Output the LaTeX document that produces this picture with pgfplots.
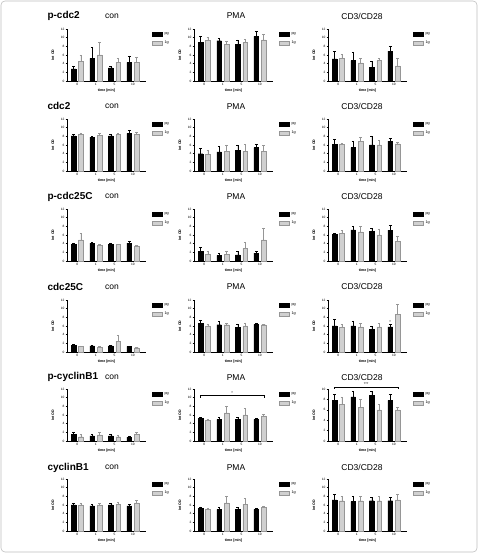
\documentclass[border=0pt]{standalone}
\usepackage{pgfplots}
\pgfplotsset{compat=1.18}
\usepackage{fontspec}
\setmainfont{Liberation Sans}
\definecolor{bargrey}{RGB}{208,208,208}
\definecolor{bargreyedge}{RGB}{150,150,150}

\pgfplotsset{
 panel/.style={
  scale only axis, width=79pt, height=52pt,
  xmin=-0.55, xmax=3.7, ymin=0, ymax=12,
  ybar, bar width=4.6pt,
  legend image code/.code={\draw[##1] (0pt,-1.8pt) rectangle (10.5pt,1.8pt);},
  axis x line*=bottom, axis y line*=left,
  axis line style={line width=0.5pt,-},
  ytick={0,2,...,12}, xtick={0,1,2,3}, xticklabels={0,1,5,10},
  tick align=outside, major tick length=1.5pt,
  tick style={line width=0.4pt,black},
  /pgf/number format/assume math mode=true,
  tick label style={font=\fontsize{3.2}{3.5}\selectfont, inner sep=0.8pt},
  xlabel={time [min]}, ylabel={Int OD},
  label style={font=\fontsize{3.6}{4}\selectfont\bfseries},
  x label style={at={(axis description cs:0.5,-0.19)}, anchor=center},
  y label style={at={(axis description cs:-0.18,0.5)}, anchor=center},
  legend style={at={(axis description cs:1.07,0.98)}, anchor=north west, draw=none, fill=none,
    font=\fontsize{3.8}{4}\selectfont, inner sep=0pt, row sep=1.2pt},
  legend cell align=left,
  clip=false,
 },
 blackbar/.style={bar shift=-3.7pt, fill=black, draw=black, line width=0.3pt,
   error bars/.cd, y dir=plus, y explicit,
   error bar style={black,line width=0.4pt},
   error mark options={rotate=90,mark size=1.3pt,black,line width=0.4pt}},
 greybar/.style={bar shift=3.7pt, fill=bargrey, draw=bargreyedge, line width=0.3pt,
   error bars/.cd, y dir=plus, y explicit,
   error bar style={bargreyedge,line width=0.4pt},
   error mark options={rotate=90,mark size=1.3pt,bargreyedge,line width=0.4pt}},
}

\newcommand\panel[6]{%
 \begin{axis}[panel, at={(#1pt,#2pt)}, #5]
 \addplot[blackbar] coordinates {#3};
 \addplot[greybar] coordinates {#4};
 \legend{pg,1g}
 #6
 \end{axis}}

\begin{document}
\begin{tikzpicture}[x=1pt,y=1pt]
\useasboundingbox (0,0) rectangle (478,553);
\draw[gray!50, line width=0.6pt, rounded corners=4pt] (1,1) rectangle (477,552);

% row titles
\foreach \t [count=\i from 0] in {p-cdc2,cdc2,p-cdc25C,cdc25C,p-cyclinB1,cyclinB1}{
  \node[anchor=west, font=\fontsize{10}{11}\selectfont\bfseries] at (44, 553-16-90.3*\i) {\t};
  \node[font=\fontsize{8.5}{9}\selectfont] at (112, 553-16-90.3*\i) {con};
  \node[font=\fontsize{8.5}{9}\selectfont] at (236, 553-16-90.3*\i) {PMA};
  \node[font=\fontsize{8.5}{9}\selectfont] at (362, 553-16-90.3*\i) {CD3/CD28};
}

% ---------- row 1: p-cdc2 ----------
\panel{67}{472}{(0,2.8) +- (0,0.5) (1,5.2) +- (0,2.5) (2,3.0) +- (0,0.4) (3,4.3) +- (0,1.5)}
 {(0,4.5) +- (0,1.5) (1,6.0) +- (0,3.0) (2,4.3) +- (0,0.9) (3,4.3) +- (0,1.2)}{}{}
\panel{194}{472}{(0,8.9) +- (0,1.4) (1,9.3) +- (0,0.5) (2,8.4) +- (0,1.1) (3,10.3) +- (0,1.1)}
 {(0,9.4) +- (0,0.7) (1,8.4) +- (0,0.8) (2,8.9) +- (0,0.7) (3,9.5) +- (0,1.2)}{}{}
\panel{328}{472}{(0,5.1) +- (0,1.7) (1,4.7) +- (0,2.0) (2,3.1) +- (0,1.4) (3,6.9) +- (0,1.1)}
 {(0,5.2) +- (0,1.0) (1,4.2) +- (0,1.0) (2,4.7) +- (0,0.6) (3,3.5) +- (0,1.8)}{}{}

% ---------- row 2: cdc2 ----------
\panel{67}{382}{(0,8.1) +- (0,0.35) (1,7.8) +- (0,0.15) (2,8.1) +- (0,0.3) (3,8.7) +- (0,0.6)}
 {(0,8.45) +- (0,0.35) (1,8.2) +- (0,0.5) (2,8.4) +- (0,0.4) (3,8.45) +- (0,0.55)}{}{}
\panel{194}{382}{(0,4.0) +- (0,1.3) (1,4.4) +- (0,1.3) (2,4.7) +- (0,1.3) (3,5.4) +- (0,0.7)}
 {(0,3.9) +- (0,0.8) (1,4.5) +- (0,1.5) (2,4.5) +- (0,1.7) (3,4.5) +- (0,1.4)}{}{}
\panel{328}{382}{(0,6.1) +- (0,1.2) (1,5.4) +- (0,1.5) (2,6.0) +- (0,2.1) (3,6.9) +- (0,0.7)}
 {(0,6.1) +- (0,0.4) (1,6.9) +- (0,0.9) (2,6.0) +- (0,1.0) (3,6.3) +- (0,0.4)}{}{}

% ---------- row 3: p-cdc25C ----------
\panel{67}{292}{(0,3.9) +- (0,0.3) (1,4.1) +- (0,0.2) (2,3.9) +- (0,0.3) (3,4.1) +- (0,0.4)}
 {(0,4.9) +- (0,1.5) (1,3.6) +- (0,0.2) (2,3.8) +- (0,0.1) (3,3.5) +- (0,0.1)}{}{}
\panel{194}{292}{(0,2.2) +- (0,1.0) (1,1.3) +- (0,0.4) (2,1.4) +- (0,0.85) (3,1.8) +- (0,0.45)}
 {(0,1.6) +- (0,0.65) (1,1.6) +- (0,0.7) (2,2.9) +- (0,1.4) (3,4.9) +- (0,2.75)}{}{}
\panel{328}{292}{(0,6.1) +- (0,0.35) (1,7.2) +- (0,0.8) (2,6.9) +- (0,0.7) (3,7.1) +- (0,1.2)}
 {(0,6.4) +- (0,0.7) (1,6.7) +- (0,1.3) (2,6.0) +- (0,1.4) (3,4.5) +- (0,1.3)}{}{}

% ---------- row 4: cdc25C ----------
\panel{67}{201}{(0,1.5) +- (0,0.2) (1,1.4) +- (0,0.2) (2,1.4) +- (0,0.1) (3,1.3) +- (0,0.1)}
 {(0,1.3) +- (0,0.1) (1,1.1) +- (0,0.2) (2,2.5) +- (0,1.3) (3,1.0) +- (0,0.1)}{}{}
\panel{194}{201}{(0,6.6) +- (0,0.7) (1,6.3) +- (0,0.7) (2,5.7) +- (0,0.8) (3,6.4) +- (0,0.2)}
 {(0,6.0) +- (0,0.5) (1,6.3) +- (0,0.4) (2,6.0) +- (0,0.7) (3,6.3) +- (0,0.1)}{}{}
\panel{328}{201}{(0,6.0) +- (0,1.5) (1,6.0) +- (0,1.2) (2,5.2) +- (0,0.8) (3,5.8) +- (0,0.6)}
 {(0,5.7) +- (0,0.7) (1,5.8) +- (0,0.8) (2,5.8) +- (0,0.8) (3,8.7) +- (0,2.3)}{}
 {\node[font=\fontsize{4}{4}\selectfont] at (axis cs:2.8,6.8) {*};}

% ---------- row 5: p-cyclinB1 ----------
\panel{67}{112}{(0,1.6) +- (0,0.4) (1,1.2) +- (0,0.4) (2,1.2) +- (0,0.3) (3,0.9) +- (0,0.3)}
 {(0,1.0) +- (0,0.6) (1,1.4) +- (0,0.6) (2,1.0) +- (0,0.4) (3,1.5) +- (0,0.5)}{}{}
\panel{194}{112}{(0,5.2) +- (0,0.3) (1,5.0) +- (0,0.5) (2,5.0) +- (0,0.5) (3,5.0) +- (0,0.3)}
 {(0,4.8) +- (0,0.2) (1,6.5) +- (0,1.5) (2,6.0) +- (0,1.5) (3,5.8) +- (0,0.4)}{}
 {\draw[line width=0.35pt] (axis cs:-0.2,10.0) -- (axis cs:-0.2,10.5) -- (axis cs:3.2,10.5) -- (axis cs:3.2,10.0);
  \node[font=\fontsize{4}{4}\selectfont] at (axis cs:1.5,11.0) {*};}
\panel{328}{112}{(0,7.8) +- (0,1.2) (1,8.5) +- (0,1.0) (2,8.8) +- (0,0.7) (3,7.8) +- (0,1.2)}
 {(0,7.0) +- (0,1.5) (1,6.5) +- (0,1.5) (2,6.0) +- (0,1.0) (3,6.0) +- (0,0.5)}{ymax=10, ytick={0,2,...,10}}
 {\draw[line width=0.35pt] (axis cs:-0.2,10.0) -- (axis cs:-0.2,10.4) -- (axis cs:3.2,10.4) -- (axis cs:3.2,10.0);
  \node[font=\fontsize{4}{4}\selectfont] at (axis cs:1.5,10.85) {***};}

% ---------- row 6: cyclinB1 ----------
\panel{67}{22}{(0,6.0) +- (0,0.5) (1,5.8) +- (0,0.4) (2,6.0) +- (0,0.3) (3,5.8) +- (0,0.4)}
 {(0,6.0) +- (0,0.5) (1,6.0) +- (0,0.4) (2,6.2) +- (0,0.4) (3,6.5) +- (0,0.5)}{}{}
\panel{194}{22}{(0,5.3) +- (0,0.3) (1,5.0) +- (0,0.5) (2,5.0) +- (0,0.5) (3,5.0) +- (0,0.3)}
 {(0,5.0) +- (0,0.3) (1,6.5) +- (0,1.5) (2,6.2) +- (0,1.3) (3,5.5) +- (0,0.3)}{}{}
\panel{328}{22}{(0,7.2) +- (0,1.3) (1,6.8) +- (0,1.2) (2,7.0) +- (0,0.8) (3,7.0) +- (0,0.8)}
 {(0,7.0) +- (0,1.0) (1,7.0) +- (0,1.0) (2,7.0) +- (0,1.0) (3,7.2) +- (0,1.3)}{}{}
\end{tikzpicture}
\end{document}
